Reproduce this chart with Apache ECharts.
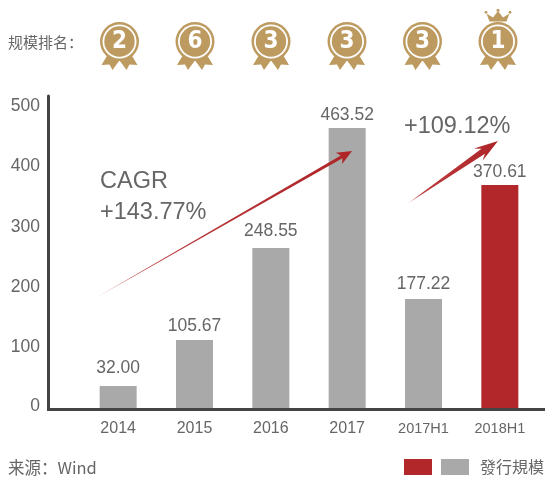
<!DOCTYPE html>
<html><head><meta charset="utf-8">
<style>html,body{margin:0;padding:0;background:#fff}#c{width:545px;height:478px}</style>
<script src="https://cdn.jsdelivr.net/npm/echarts@6/dist/echarts.min.js"></script>
</head><body><div id="c"></div>
<script>
const categories = ['2014','2015','2016','2017','2017H1','2018H1'];
// bar heights as drawn in the picture, read against the y axis
const barValues = [36.4,112.6,264.9,463.6,180.5,369.2];
// values as printed above the bars
const valueLabels = ['32.00','105.67','248.55','463.52','177.22','370.61'];
const ranks = ['2','6','3','3','3','1'];
const yTicks = [0,100,200,300,400,500];

const RED='#b1272a', GREY='#a9a9a9';
const labelGaps = [9,5,8,4,6,4];
const barColors = [GREY,GREY,GREY,GREY,GREY,RED];
const GOLD = '#bd9a5f', TXT = '#666666', FONT = '"Liberation Sans",Arial,sans-serif', CJK = '"Noto Sans CJK SC",sans-serif';

function arrow(x0,y0,x1,y1,hl,hw,sw,notch){
  const dx=x1-x0,dy=y1-y0,L=Math.hypot(dx,dy),ux=dx/L,uy=dy/L,nx=-uy,ny=ux;
  const bx=x1-ux*hl,by=y1-uy*hl,cx=x1-ux*(hl-notch),cy=y1-uy*(hl-notch);
  return {type:'polygon',z:20,shape:{points:[[x0,y0],[cx+nx*sw,cy+ny*sw],[bx+nx*hw,by+ny*hw],[x1,y1],[bx-nx*hw,by-ny*hw],[cx-nx*sw,cy-ny*sw]]},
    style:{fill:{type:'linear',global:true,x:x0,y:y0,x2:x1,y2:y1,colorStops:[{offset:0,color:'#e8b8b8'},{offset:.15,color:'#bb3b3e'},{offset:1,color:'#ae2528'}]}}};
}
function medal(cx,rank){
  const cy=41.5, els=[];
  els.push({type:'polygon',shape:{points:[[cx-12,55],[cx-18,65],[cx-10,64.5],[cx-7,70],[cx+1,59]]},style:{fill:GOLD}});
  els.push({type:'polygon',shape:{points:[[cx+12,55],[cx+18,65],[cx+10,64.5],[cx+7,70],[cx-1,59]]},style:{fill:GOLD}});
  els.push({type:'circle',shape:{cx,cy,r:19.5},style:{fill:GOLD}});
  els.push({type:'circle',shape:{cx,cy,r:17},style:{fill:'#fff'}});
  els.push({type:'circle',shape:{cx,cy,r:15.2},style:{fill:GOLD}});
  els.push({type:'text',x:cx,y:cy+0.5,style:{text:rank,fill:'#fff',font:'bold 24px "DejaVu Sans Condensed",Roboto,sans-serif',align:'center',verticalAlign:'middle'}});
  return els;
}
const medalXs=[119.5,195,271,347,422.5,498];
const graphics=[];
medalXs.forEach((c,i)=>graphics.push(...medal(c,ranks[i])));
const cc=medalXs[5];
graphics.push({type:'polygon',shape:{points:[[cc-8.5,21.5],[cc-11.5,13.5],[cc-5,17.5],[cc,11],[cc+5,17.5],[cc+11.5,13.5],[cc+8.5,21.5]]},style:{fill:GOLD}});
[[-12,12.3,1.4],[0,10.3,1.5],[12,12.3,1.4]].forEach(p=>graphics.push({type:'circle',shape:{cx:cc+p[0],cy:p[1],r:p[2]},style:{fill:GOLD}}));
graphics.push(
  {type:'line',z:15,shape:{x1:47,y1:409.5,x2:545,y2:409.5},style:{stroke:'#444',lineWidth:3}},
  arrow(92,300,352,151,15,6.5,1.6,3),
  arrow(407,204,498,141,24,7.5,3,6),
  {type:'text',x:8,y:42,style:{text:'规模排名：',fill:TXT,font:'15px '+CJK,verticalAlign:'middle'}},
  {type:'text',x:100,y:182,style:{text:'CAGR',fill:TXT,font:'23.5px '+FONT,verticalAlign:'middle'}},
  {type:'text',x:100,y:213,style:{text:'+143.77%',fill:TXT,font:'23.5px '+FONT,verticalAlign:'middle'}},
  {type:'text',x:404,y:127,style:{text:'+109.12%',fill:TXT,font:'23.5px '+FONT,verticalAlign:'middle'}},
  {type:'text',x:8,y:468,style:{text:'来源：Wind',fill:TXT,font:'16.5px '+CJK,verticalAlign:'middle'}},
  {type:'rect',shape:{x:404,y:459,width:28,height:16},style:{fill:RED}},
  {type:'rect',shape:{x:441,y:459,width:28,height:16},style:{fill:GREY}},
  {type:'text',x:480,y:467,style:{text:'發行規模',fill:TXT,font:'16px "Noto Sans CJK TC",sans-serif',verticalAlign:'middle'}}
);
const chart=echarts.init(document.getElementById('c'),null,{renderer:'canvas'});
chart.setOption({
  animation:false,
  grid:{left:80,right:7,top:96,bottom:70,containLabel:false},
  xAxis:{type:'category',data:categories,axisLine:{show:false},axisTick:{show:false},
    axisLabel:{color:TXT,fontFamily:FONT,fontSize:16,margin:13,interval:0,
      formatter:v=>v.indexOf('H')>=0?'{h|'+v+'}':v,
      rich:{h:{fontSize:14.5,color:TXT,fontFamily:FONT}}}},
  yAxis:{type:'value',min:0,max:516.5,offset:32,splitLine:{show:false},interval:100,
    axisLine:{show:true,lineStyle:{color:'#444',width:3}},axisTick:{show:false},
    axisLabel:{color:TXT,fontFamily:FONT,fontSize:17.5,margin:8,customValues:yTicks,
      formatter:v=>v===0?'{z|0}':String(v),
      rich:{z:{fontSize:17.5,color:TXT,fontFamily:FONT,padding:[0,0,3,0]}}}},
  series:[{type:'bar',barWidth:37,data:barValues.map((v,i)=>({value:v,itemStyle:{color:barColors[i]},label:{distance:labelGaps[i]}})),
    label:{show:true,position:'top',color:TXT,fontFamily:FONT,fontSize:17.5,
      formatter:p=>valueLabels[p.dataIndex]}}],
  graphic:graphics
});
</script></body></html>
